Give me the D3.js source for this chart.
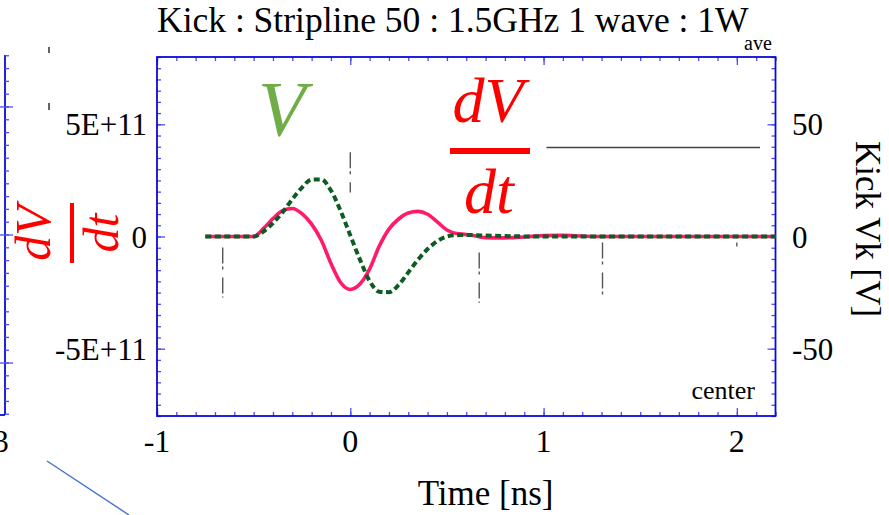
<!DOCTYPE html>
<html>
<head>
<meta charset="utf-8">
<script src="https://cdn.jsdelivr.net/npm/d3@7"></script>
<style>
  html, body { margin: 0; padding: 0; background: #fff; }
  svg { display: block; font-family: "Liberation Serif", "Times New Roman", serif; }
</style>
</head>
<body>
<svg id="chart" width="889" height="515"></svg>
<script>
// Sample times [ns]
const timeNs = [-0.75, -0.55, -0.50, -0.45, -0.40, -0.35, -0.30, -0.25, -0.20, -0.15, -0.10, -0.05,
                0.00, 0.05, 0.10, 0.15, 0.20, 0.25, 0.30, 0.35, 0.40, 0.45, 0.50, 0.55, 0.60, 0.65,
                0.70, 0.80, 0.90, 1.00, 1.10, 1.20, 1.30, 2.20];
// dV/dt [V/s] (left axis)
const dVdt = [0, 0, 0, 0.35e11, 0.80e11, 1.15e11, 1.25e11, 1.02e11, 0.55e11, -0.17e11, -1.20e11, -2.05e11,
              -2.36e11, -2.12e11, -1.45e11, -0.43e11, 0.33e11, 0.78e11, 1.05e11, 1.12e11, 0.99e11, 0.65e11, 0.29e11, 0.13e11, 0.09e11, 0.02e11,
              -0.05e11, -0.06e11, -0.02e11, 0.04e11, 0.05e11, 0.02e11, 0, 0];
// Kick voltage Vk [V] (right axis)
const kickV = [0, 0, 0, 2.2, 6.0, 10.8, 16.6, 21.8, 25.4, 25.4, 20.5, 11.4,
               0.5, -10.3, -19.8, -24.6, -24.8, -21.6, -16.0, -10.4, -5.6, -2.1, 0.0, 0.6, 0.7, 0.6,
               0.4, 0.2, 0.05, 0, 0, 0, 0, 0];

const xTicks = [-1, 0, 1, 2];
const xTickLabels = ["-1", "0", "1", "2"];
const leftTicks = [-5e11, 0, 5e11];
const leftTickLabels = ["-5E+11", "0", "5E+11"];
const rightTicks = [-50, 0, 50];
const rightTickLabels = ["-50", "0", "50"];

// Dash-dot period markers (time, top and bottom in Vk units)
const markerT = [-0.66, 0, 0.667, 1.305, 2.0];
const markerTop = [-4.9, 37.5, -7.1, -2.7, -2.7];
const markerBottom = [-27.2, 19.6, -29.5, -26.8, -4.5];

const svg = d3.select("#chart");
const frame = { left: 157, right: 775.5, top: 57, bottom: 416 };

const x = d3.scaleLinear().domain([-1, 2.2]).range([frame.left, frame.right]);
const yL = d3.scaleLinear().domain([-8e11, 8e11]).range([frame.bottom, frame.top]);
const yR = d3.scaleLinear().domain([-80, 80]).range([frame.bottom, frame.top]);

const tickColor = "#4d4df0";
const frameColor = "#0a0ad8";

// ---- neighbouring panel remnants on the far left ----
const nb = d3.scaleLinear().domain([-1.406, 1.406]).range([415, 55]);
svg.append("line").attr("x1", 5).attr("x2", 5).attr("y1", 55).attr("y2", 415)
  .attr("stroke", frameColor).attr("stroke-width", 1.8);
svg.append("line").attr("x1", 0).attr("x2", 5).attr("y1", 415).attr("y2", 415)
  .attr("stroke", frameColor).attr("stroke-width", 1.8);
const nbMinor = d3.range(-14, 15).map(i => i / 10);
svg.append("g").selectAll("line").data(nbMinor).join("line")
  .attr("x1", 5).attr("x2", 9).attr("y1", d => nb(d)).attr("y2", d => nb(d))
  .attr("stroke", tickColor).attr("stroke-width", 1.3);
svg.append("g").selectAll("line").data([-1, 0, 1]).join("line")
  .attr("x1", 0).attr("x2", 13).attr("y1", d => nb(d)).attr("y2", d => nb(d))
  .attr("stroke", tickColor).attr("stroke-width", 1.3);
svg.append("text").attr("x", 1).attr("y", 452).attr("text-anchor", "middle")
  .attr("font-size", 31).text("3");
svg.append("line").attr("x1", 47).attr("y1", 461).attr("x2", 129).attr("y2", 515)
  .attr("stroke", "#4472c4").attr("stroke-width", 1.4);
[[47, 53], [103, 110]].forEach(([a, b]) => {
  svg.append("line").attr("x1", 49).attr("x2", 49).attr("y1", a).attr("y2", b)
    .attr("stroke", "#222").attr("stroke-width", 1.4);
});

// ---- axes ticks (inward) ----
const xMinor = d3.range(-10, 23).map(i => i / 10);
const yMinorL = d3.range(-16, 17).map(i => i * 0.5e11);
const yMinorR = d3.range(-16, 17).map(i => i * 5);

function ticks(axis, transform) {
  const g = svg.append("g").attr("transform", transform).call(axis);
  g.select(".domain").remove();
  g.selectAll(".tick line").attr("stroke", tickColor).attr("stroke-width", 1.3);
  g.selectAll(".tick text").remove();
}
ticks(d3.axisBottom(x).tickValues(xMinor).tickSize(-4), `translate(0,${frame.bottom})`);
ticks(d3.axisBottom(x).tickValues(xTicks).tickSize(-8), `translate(0,${frame.bottom})`);
ticks(d3.axisTop(x).tickValues(xMinor).tickSize(-4), `translate(0,${frame.top})`);
ticks(d3.axisTop(x).tickValues(xTicks).tickSize(-8), `translate(0,${frame.top})`);
ticks(d3.axisLeft(yL).tickValues(yMinorL).tickSize(-4), `translate(${frame.left},0)`);
ticks(d3.axisLeft(yL).tickValues(leftTicks).tickSize(-8), `translate(${frame.left},0)`);
ticks(d3.axisRight(yR).tickValues(yMinorR).tickSize(-4), `translate(${frame.right},0)`);
ticks(d3.axisRight(yR).tickValues(rightTicks).tickSize(-8), `translate(${frame.right},0)`);

svg.append("rect")
  .attr("x", frame.left).attr("y", frame.top)
  .attr("width", frame.right - frame.left).attr("height", frame.bottom - frame.top)
  .attr("fill", "none").attr("stroke", frameColor).attr("stroke-width", 1.8);

// ---- tick labels ----
svg.append("g").selectAll("text").data(xTicks).join("text")
  .attr("x", d => x(d)).attr("y", 452).attr("text-anchor", "middle")
  .attr("font-size", 32).text((d, i) => xTickLabels[i]);
svg.append("g").selectAll("text").data(leftTicks).join("text")
  .attr("x", 147).attr("y", d => yL(d) + 11).attr("text-anchor", "end")
  .attr("font-size", 31).text((d, i) => leftTickLabels[i]);
svg.append("g").selectAll("text").data(rightTicks).join("text")
  .attr("x", 792).attr("y", d => yR(d) + 11).attr("text-anchor", "start")
  .attr("font-size", 31).text((d, i) => rightTickLabels[i]);

// ---- titles ----
svg.append("text").attr("x", 157).attr("y", 32).attr("font-size", 35.5)
  .text("Kick : Stripline 50 : 1.5GHz 1 wave : 1W");
svg.append("text").attr("x", 744).attr("y", 50).attr("font-size", 20).text("ave");
svg.append("text").attr("x", x(0.7)).attr("y", 505).attr("text-anchor", "middle")
  .attr("font-size", 35).text("Time [ns]");
svg.append("text").attr("transform", "translate(856,229) rotate(90)")
  .attr("text-anchor", "middle").attr("font-size", 35).text("Kick Vk [V]");
svg.append("text").attr("x", 755).attr("y", 399).attr("text-anchor", "end")
  .attr("font-size", 26).text("center");

// ---- period markers and rule ----
svg.append("g").selectAll("line").data(markerT).join("line")
  .attr("x1", d => x(d)).attr("x2", d => x(d))
  .attr("y1", (d, i) => yR(markerTop[i])).attr("y2", (d, i) => yR(markerBottom[i]))
  .attr("stroke", "#555").attr("stroke-width", 1.4).attr("stroke-dasharray", "16,3,3,8");
svg.append("line").attr("x1", x(1.015)).attr("x2", x(2.12))
  .attr("y1", yR(39.7)).attr("y2", yR(39.7))
  .attr("stroke", "#444").attr("stroke-width", 1.5);

// ---- curves ----
const lineL = d3.line().x((d, i) => x(timeNs[i])).y(d => yL(d)).curve(d3.curveMonotoneX);
const lineR = d3.line().x((d, i) => x(timeNs[i])).y(d => yR(d)).curve(d3.curveMonotoneX);
svg.append("path").datum(dVdt).attr("d", lineL)
  .attr("fill", "none").attr("stroke", "#ff1a6a").attr("stroke-width", 3.6);
svg.append("path").datum(kickV).attr("d", lineR)
  .attr("fill", "none").attr("stroke", "#0d5c22").attr("stroke-width", 4)
  .attr("stroke-dasharray", "6,3.5");

// ---- symbolic labels ----
svg.append("text").attr("x", 258).attr("y", 135).attr("font-size", 78)
  .attr("font-style", "italic").attr("fill", "#70ad47").text("V");

const frac = svg.append("g").attr("fill", "#ff0000").attr("font-style", "italic");
frac.append("text").attr("x", 488).attr("y", 122).attr("text-anchor", "middle")
  .attr("font-size", 64).text("dV");
frac.append("rect").attr("x", 450).attr("y", 148).attr("width", 80).attr("height", 6);
frac.append("text").attr("x", 489).attr("y", 213).attr("text-anchor", "middle")
  .attr("font-size", 64).text("dt");

const fracL = svg.append("g").attr("fill", "#ff0000").attr("font-style", "italic")
  .attr("transform", "translate(72,233) rotate(-90)");
fracL.append("text").attr("x", 0).attr("y", -22).attr("text-anchor", "middle")
  .attr("font-size", 50).text("dV");
fracL.append("rect").attr("x", -30).attr("y", -2).attr("width", 60).attr("height", 4);
fracL.append("text").attr("x", 0).attr("y", 46).attr("text-anchor", "middle")
  .attr("font-size", 50).text("dt");
</script>
</body>
</html>
